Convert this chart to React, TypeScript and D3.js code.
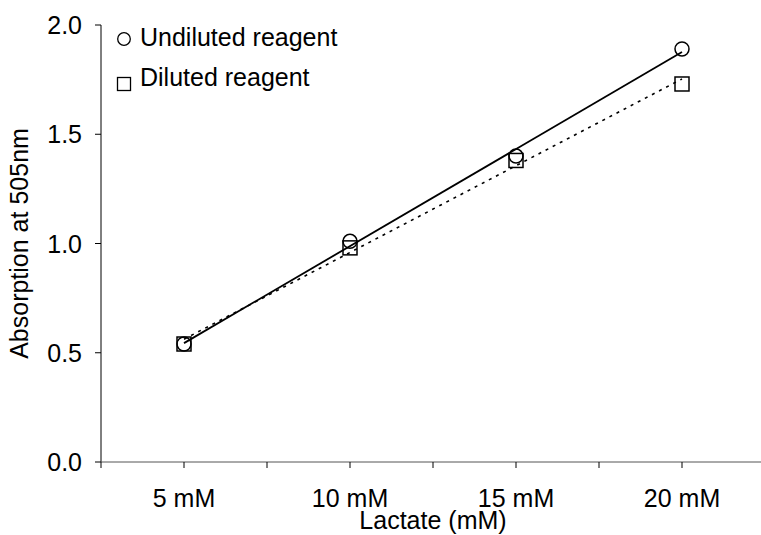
import React from "react";
import * as d3 from "d3";

const categories = ["5 mM", "10 mM", "15 mM", "20 mM"];
const undiluted = [0.54, 1.01, 1.4, 1.89];
const diluted = [0.54, 0.98, 1.38, 1.73];
const yTicks = [0, 0.5, 1.0, 1.5, 2.0];
const seriesNames = ["Undiluted reagent", "Diluted reagent"];
const xTitle = "Lactate (mM)";
const yTitle = "Absorption at 505nm";

const W = 761;
const H = 535;
const left = 101;
const right = 765;
const top = 25;
const bottom = 462;
const FONT = "'Liberation Sans', Arial, sans-serif";

function regression(vals: number[]) {
  const xs = vals.map((_, i) => i + 1);
  const mx = d3.mean(xs)!;
  const my = d3.mean(vals)!;
  let sxy = 0, sxx = 0;
  xs.forEach((x, i) => {
    sxy += (x - mx) * (vals[i] - my);
    sxx += (x - mx) * (x - mx);
  });
  const slope = sxy / sxx;
  const intercept = my - slope * mx;
  return (x: number) => intercept + slope * x;
}

export default function App() {
  const x = d3.scalePoint<string>().domain(categories).range([left, right]).padding(0.5);
  const y = d3.scaleLinear().domain([0, 2]).range([bottom, top]);
  const step = x.step();
  const xTickPos = d3.range(0, categories.length * 2 + 1).map((i) => left + (i * step) / 2);
  const idxX = (i: number) => x(categories[0])! + (i - 1) * step;

  const fU = regression(undiluted);
  const fD = regression(diluted);
  const trend = (f: (v: number) => number) =>
    d3.line<number>().x((d) => idxX(d)).y((d) => y(f(d)))([1, 4]) || "";

  const fs = 25;

  return (
    <svg width={W} height={H} style={{ position: "absolute", left: 0, top: 0, background: "#fff" }}>
      <rect x={0} y={0} width={W} height={H} fill="#fff" />
      {/* y axis */}
      <line x1={left} x2={left} y1={top} y2={bottom} stroke="#000" strokeWidth={1} />
      {yTicks.map((t) => (
        <g key={t}>
          <line x1={left - 6} x2={left} y1={y(t)} y2={y(t)} stroke="#000" />
          <text x={82} y={y(t)} dy="0.36em" textAnchor="end" fontFamily={FONT} fontSize={fs}>
            {t.toFixed(1)}
          </text>
        </g>
      ))}
      {/* x axis */}
      <line x1={left} x2={right} y1={bottom} y2={bottom} stroke="#555" strokeWidth={1} />
      {xTickPos.map((p, i) => (
        <line key={i} x1={p} x2={p} y1={bottom} y2={bottom + 6} stroke="#000" />
      ))}
      {categories.map((c) => (
        <text key={c} x={x(c)} y={507} textAnchor="middle" fontFamily={FONT} fontSize={fs}>
          {c}
        </text>
      ))}
      <text x={(left + right) / 2} y={529} textAnchor="middle" fontFamily={FONT} fontSize={fs}>
        {xTitle}
      </text>
      <text
        transform={`translate(28, ${(top + bottom) / 2}) rotate(-90)`}
        textAnchor="middle"
        fontFamily={FONT}
        fontSize={fs}
      >
        {yTitle}
      </text>
      {/* trend lines */}
      <path d={trend(fU)} fill="none" stroke="#000" strokeWidth={1.8} />
      <path d={trend(fD)} fill="none" stroke="#000" strokeWidth={1.6} strokeDasharray="3,5" />
      {/* markers */}
      {undiluted.map((v, i) => (
        <circle key={"u" + i} cx={x(categories[i])} cy={y(v)} r={7} fill="none" stroke="#000" strokeWidth={1.5} />
      ))}
      {diluted.map((v, i) => (
        <rect
          key={"d" + i}
          x={x(categories[i])! - 7}
          y={y(v) - 7}
          width={14}
          height={14}
          fill="none"
          stroke="#000"
          strokeWidth={1.5}
        />
      ))}
      {/* legend */}
      <circle cx={124} cy={39} r={6.3} fill="none" stroke="#000" strokeWidth={1.3} />
      <text x={140} y={46} fontFamily={FONT} fontSize={fs}>
        {seriesNames[0]}
      </text>
      <rect x={117.5} y={77.5} width={13} height={13} fill="none" stroke="#000" strokeWidth={1.3} />
      <text x={140} y={86} fontFamily={FONT} fontSize={fs}>
        {seriesNames[1]}
      </text>
    </svg>
  );
}
